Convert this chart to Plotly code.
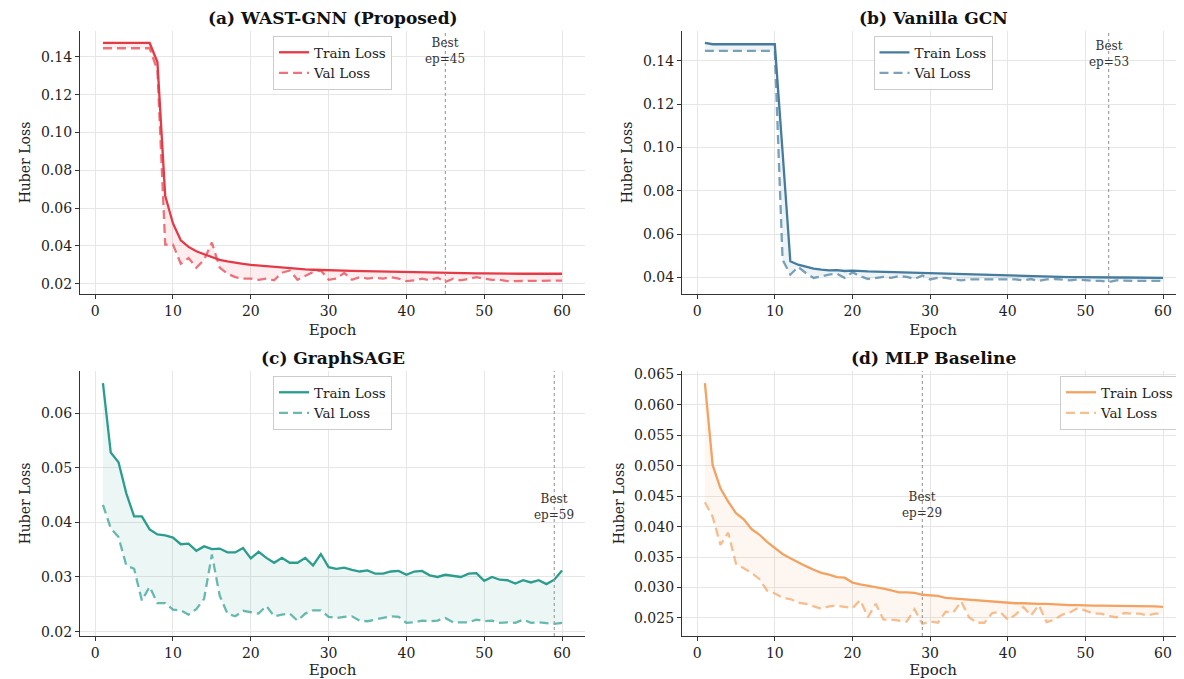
import plotly.graph_objects as go

epochs = list(range(1, 61))

a_train = [0.1474]*7 + [0.1373, 0.0665, 0.0519, 0.0430, 0.0395, 0.0372, 0.0356, 0.0342, 0.0326,
           0.0318, 0.0310, 0.0305, 0.0300, 0.0296, 0.0293, 0.0289, 0.0285, 0.0281, 0.0279,
           0.0276, 0.0274, 0.0272, 0.0271, 0.0270, 0.0269, 0.0268, 0.0267, 0.0266, 0.0265,
           0.0264, 0.0263, 0.0262, 0.0261, 0.0260, 0.0259, 0.0258, 0.0258, 0.0257, 0.0256,
           0.0256, 0.0255, 0.0255, 0.0255, 0.0254, 0.0254, 0.0254, 0.0253, 0.0253, 0.0253,
           0.0253, 0.0253, 0.0253, 0.0253]
a_val = [0.1446]*7 + [0.1330, 0.0407, 0.0407, 0.0306, 0.0336, 0.0285, 0.0327, 0.0418, 0.0285,
         0.0253, 0.0235, 0.0227, 0.0227, 0.0221, 0.0227, 0.0218, 0.0258, 0.0270, 0.0221,
         0.0240, 0.0262, 0.0270, 0.0221, 0.0227, 0.0257, 0.0221, 0.0235, 0.0227, 0.0232,
         0.0227, 0.0235, 0.0227, 0.0214, 0.0218, 0.0227, 0.0218, 0.0232, 0.0209, 0.0227,
         0.0218, 0.0227, 0.0235, 0.0227, 0.0221, 0.0221, 0.0214, 0.0214, 0.0214, 0.0217,
         0.0217, 0.0217, 0.0217, 0.0217]

b_train = [0.1483] + [0.1477]*9 + [0.0980, 0.0474, 0.0458, 0.0448, 0.0440, 0.0435, 0.0432, 0.0433,
           0.0429, 0.0431, 0.0428, 0.0427, 0.0426, 0.0425, 0.0424, 0.0422, 0.0421, 0.0420,
           0.0418, 0.0416, 0.0418, 0.0414, 0.0413, 0.0412, 0.0411, 0.0410, 0.0409, 0.0408,
           0.0407, 0.0406, 0.0405, 0.0405, 0.0404, 0.0403, 0.0403, 0.0402, 0.0402, 0.0401,
           0.0401, 0.0400, 0.0400, 0.0400, 0.0399, 0.0399, 0.0399, 0.0398, 0.0398, 0.0398,
           0.0398, 0.0397]
b_val = [0.1446]*10 + [0.0481, 0.0412, 0.0448, 0.0420, 0.0397, 0.0405, 0.0412, 0.0417, 0.0397,
         0.0423, 0.0405, 0.0392, 0.0397, 0.0402, 0.0397, 0.0405, 0.0402, 0.0392, 0.0408,
         0.0390, 0.0397, 0.0397, 0.0392, 0.0386, 0.0390, 0.0390, 0.0392, 0.0390, 0.0392,
         0.0392, 0.0390, 0.0386, 0.0392, 0.0383, 0.0390, 0.0392, 0.0390, 0.0386, 0.0390,
         0.0386, 0.0383, 0.0383, 0.0378, 0.0386, 0.0383, 0.0383, 0.0383, 0.0383, 0.0383,
         0.0383]

c_train = [0.0655, 0.0528, 0.0510, 0.0453, 0.0411, 0.0411, 0.0387, 0.0378, 0.0376, 0.0372,
           0.0360, 0.0361, 0.0348, 0.0356, 0.0351, 0.0352, 0.0345, 0.0345, 0.0353, 0.0334,
           0.0346, 0.0335, 0.0326, 0.0335, 0.0326, 0.0326, 0.0335, 0.0321, 0.0342, 0.0318,
           0.0315, 0.0317, 0.0313, 0.0310, 0.0312, 0.0306, 0.0306, 0.0310, 0.0311, 0.0304,
           0.0310, 0.0311, 0.0303, 0.0300, 0.0304, 0.0302, 0.0300, 0.0306, 0.0307, 0.0293,
           0.0300, 0.0295, 0.0294, 0.0288, 0.0294, 0.0290, 0.0294, 0.0287, 0.0295, 0.0312]
c_val = [0.0432, 0.0389, 0.0373, 0.0321, 0.0315, 0.0257, 0.0282, 0.0252, 0.0252, 0.0240,
         0.0239, 0.0231, 0.0241, 0.0260, 0.0341, 0.0266, 0.0233, 0.0228, 0.0238, 0.0236,
         0.0233, 0.0247, 0.0228, 0.0231, 0.0233, 0.0220, 0.0233, 0.0239, 0.0239, 0.0227,
         0.0225, 0.0227, 0.0228, 0.0220, 0.0219, 0.0222, 0.0225, 0.0228, 0.0227, 0.0216,
         0.0217, 0.0220, 0.0219, 0.0220, 0.0225, 0.0217, 0.0217, 0.0217, 0.0222, 0.0219,
         0.0220, 0.0216, 0.0217, 0.0216, 0.0222, 0.0216, 0.0217, 0.0216, 0.0214, 0.0216]

d_train = [0.0636, 0.0501, 0.0463, 0.0441, 0.0422, 0.0412, 0.0396, 0.0387, 0.0375, 0.0365,
           0.0355, 0.0348, 0.0341, 0.0335, 0.0329, 0.0324, 0.0321, 0.0317, 0.0316, 0.0308,
           0.0305, 0.0303, 0.0301, 0.0298, 0.0295, 0.0292, 0.0292, 0.0291, 0.0288, 0.0287,
           0.0286, 0.0283, 0.0282, 0.0281, 0.0279, 0.0279, 0.0277, 0.0276, 0.0275, 0.0275,
           0.0274, 0.0274, 0.0273, 0.0273, 0.0273, 0.0272, 0.0272, 0.0271, 0.0271, 0.0270,
           0.0270, 0.0270, 0.0270, 0.0269, 0.0269, 0.0269, 0.0269, 0.0269, 0.0269, 0.0268]
d_val = [0.0440, 0.0416, 0.0370, 0.0390, 0.0339, 0.0332, 0.0324, 0.0314, 0.0295, 0.0290,
         0.0283, 0.0281, 0.0275, 0.0273, 0.0269, 0.0265, 0.0269, 0.0270, 0.0268, 0.0266,
         0.0279, 0.0251, 0.0273, 0.0247, 0.0247, 0.0246, 0.0244, 0.0264, 0.0240, 0.0244,
         0.0242, 0.0260, 0.0259, 0.0277, 0.0251, 0.0242, 0.0242, 0.0258, 0.0260, 0.0247,
         0.0255, 0.0268, 0.0254, 0.0271, 0.0243, 0.0247, 0.0255, 0.0259, 0.0266, 0.0262,
         0.0257, 0.0257, 0.0253, 0.0251, 0.0258, 0.0257, 0.0257, 0.0254, 0.0257, 0.0257]

panels = [
    dict(title="(a) WAST-GNN (Proposed)", train=a_train, val=a_val, color=(230, 57, 70), best=45,
         yticks=[0.02, 0.04, 0.06, 0.08, 0.10, 0.12, 0.14], fmt=".2f", legend_x="center"),
    dict(title="(b) Vanilla GCN", train=b_train, val=b_val, color=(69, 123, 157), best=53,
         yticks=[0.04, 0.06, 0.08, 0.10, 0.12, 0.14], fmt=".2f", legend_x="center"),
    dict(title="(c) GraphSAGE", train=c_train, val=c_val, color=(42, 157, 143), best=59,
         yticks=[0.02, 0.03, 0.04, 0.05, 0.06], fmt=".2f", legend_x="center"),
    dict(title="(d) MLP Baseline", train=d_train, val=d_val, color=(244, 162, 97), best=29,
         yticks=[0.025, 0.030, 0.035, 0.040, 0.045, 0.050, 0.055, 0.060, 0.065], fmt=".3f",
         legend_x="right"),
]
xticks = [0, 10, 20, 30, 40, 50, 60]

# the page body has an 8px default margin: the figure starts at (8, 8) in the window
OFF = 8
W, H = 1184 - OFF, 679 - OFF
# target pixel boxes in the window (left, right, top, bottom)
boxes = [(80, 585, 31, 294), (682, 1184, 31, 294), (80, 585, 371, 636), (682, 1184, 371, 636)]

FONT = "DejaVu Serif"
fig = go.Figure()
layout = dict(width=W, height=H, autosize=False, margin=dict(l=0, r=0, t=0, b=0, autoexpand=False),
              paper_bgcolor="white", plot_bgcolor="white", font=dict(family=FONT, color="#222"),
              annotations=[], shapes=[])

for i, p in enumerate(panels):
    n = i + 1
    xa = "x" if n == 1 else f"x{n}"
    ya = "y" if n == 1 else f"y{n}"
    lg = "legend" if n == 1 else f"legend{n}"
    r, g, b = p["color"]
    solid = f"rgb({r},{g},{b})"
    light = f"rgba({r},{g},{b},0.7)"
    fillc = f"rgba({r},{g},{b},0.09)"
    L, R, T, B = [v - OFF for v in boxes[i]]
    xd = [L / W, min(R / W, 1.0)]
    yd = [1 - B / H, 1 - T / H]

    allv = p["train"] + p["val"]
    lo, hi = min(allv), max(allv)
    m = (hi - lo) * 0.05
    yr = [lo - m, hi + m]
    # matplotlib-like x margins; right column cropped at figure edge
    xr = [-1.95, 62.95] if R < W else [-1.95, 62.7]

    fig.add_trace(go.Scatter(x=epochs + epochs[::-1], y=p["train"] + p["val"][::-1],
                             fill="toself", fillcolor=fillc, line=dict(width=0),
                             mode="lines", showlegend=False, hoverinfo="skip",
                             xaxis=xa, yaxis=ya))
    fig.add_trace(go.Scatter(x=epochs, y=p["train"], mode="lines", name="Train Loss",
                             line=dict(color=solid, width=2.3), xaxis=xa, yaxis=ya, legend=lg))
    fig.add_trace(go.Scatter(x=epochs, y=p["val"], mode="lines", name="Val Loss",
                             line=dict(color=light, width=2.3, dash="9px,5px"),
                             xaxis=xa, yaxis=ya, legend=lg))

    axcommon = dict(showline=True, linecolor="#333", linewidth=1.3, ticks="outside",
                    ticklen=4, tickwidth=1.2, tickcolor="#333", showgrid=True,
                    gridcolor="#e6e6e6", gridwidth=1, zeroline=False, automargin=False,
                    tickfont=dict(family=FONT, size=14, color="#222"))
    layout["xaxis" if n == 1 else f"xaxis{n}"] = dict(
        axcommon, domain=xd, range=xr, tickvals=xticks, anchor=ya,
        title=dict(text="Epoch", font=dict(family=FONT, size=15, color="#222"), standoff=6))
    layout["yaxis" if n == 1 else f"yaxis{n}"] = dict(
        axcommon, domain=yd, range=yr, tickvals=p["yticks"], tickformat=p["fmt"], anchor=xa,
        title=dict(text="Huber Loss", font=dict(family=FONT, size=14, color="#222"), standoff=6))

    # legend
    leg = dict(bgcolor="rgba(255,255,255,0.85)", bordercolor="#cccccc", borderwidth=1,
               font=dict(family=FONT, size=13.5, color="#222"), yanchor="top",
               y=yd[1] - 5 / H, tracegroupgap=0, itemwidth=30)
    if p["legend_x"] == "center":
        leg.update(x=(xd[0] + xd[1]) / 2, xanchor="center")
    else:
        leg.update(x=xd[1] - 5 / W, xanchor="right")
    layout[lg] = leg

    # best epoch line
    layout["shapes"].append(dict(type="line", xref=xa, yref=f"{ya} domain", x0=p["best"],
                                 x1=p["best"], y0=0, y1=1,
                                 line=dict(color="#999", width=1.1, dash="dot")))
    layout["annotations"].append(dict(xref=xa, yref=ya, x=p["best"], y=max(p["val"]) * 0.99,
                                      text=f"Best<br>ep={p['best']}", showarrow=False,
                                      font=dict(family=FONT, size=12, color="#333"),
                                      xanchor="center", yanchor="middle"))
    # title (centre ~13px above the top of the plot area)
    layout["annotations"].append(dict(xref="paper", yref="paper", x=(xd[0] + xd[1]) / 2,
                                      y=1 - (T - 13) / H, text=f"<b>{p['title']}</b>",
                                      showarrow=False, xanchor="center", yanchor="middle",
                                      font=dict(family=FONT, size=17, color="#111")))

fig.update_layout(**layout)
fig.write_html("out.html")
